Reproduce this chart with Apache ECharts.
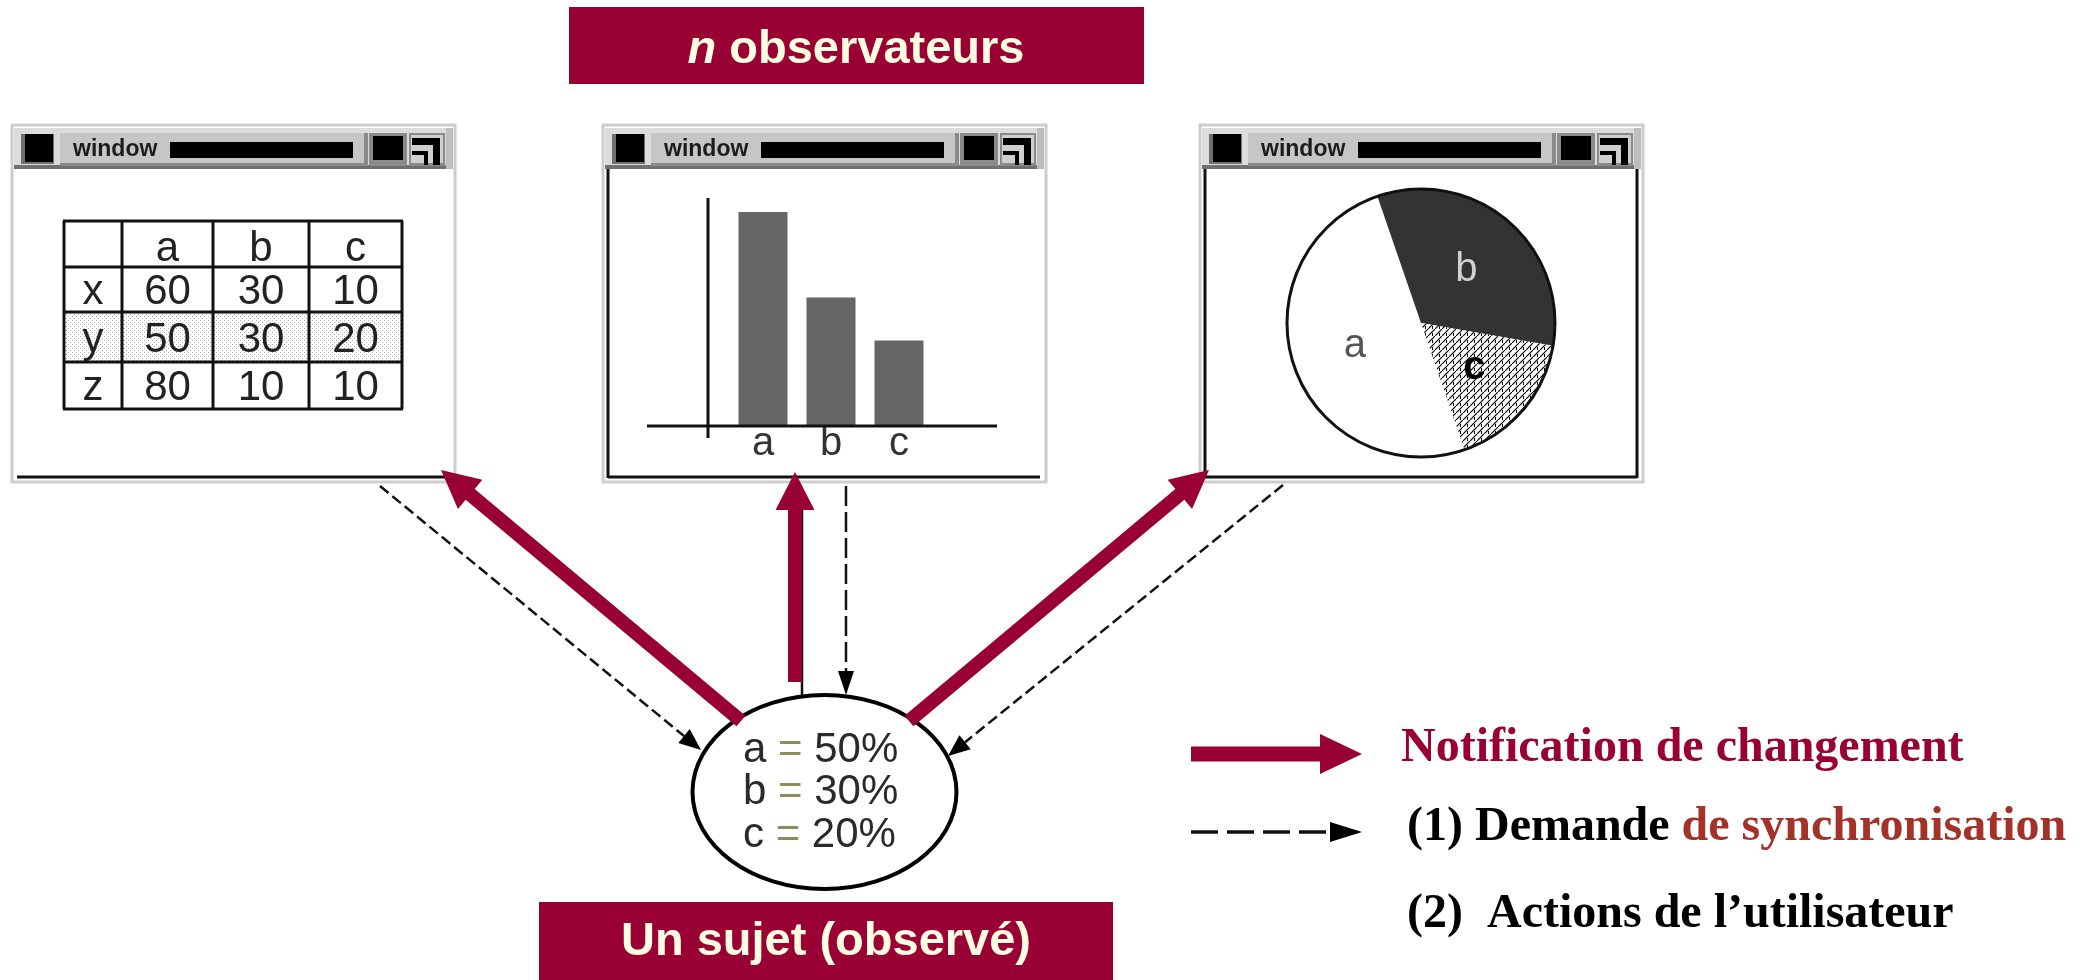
<!DOCTYPE html>
<html>
<head>
<meta charset="utf-8">
<title>Observateur</title>
<script src="https://cdn.jsdelivr.net/npm/echarts@6/dist/echarts.min.js"></script>
<style>
html,body{margin:0;padding:0;background:#fff;}
#main{width:2098px;height:980px;}
</style>
</head>
<body>
<div id="main"></div>
<script>
var tableCols=['a','b','c'];
var tableRows=['x','y','z'];
var tableValues=[[60,30,10],[50,30,20],[80,10,10]];
var barCats=['a','b','c'];
var barValues=[50,30,20];
var pieCats=['a','b','c'];
var pieValues=[50,33,17];
var subjectLines=[['a','50%'],['b','30%'],['c','20%']];
var legendTexts=['Notification de changement','(1) Demande ','de synchronisation','(2)  Actions de l\u2019utilisateur'];

var MAROON='#990033';
var CREAM='#fffde2';
var SANS='"Liberation Sans", Arial, sans-serif';
var SERIF='"Liberation Serif", "Times New Roman", serif';

function makePattern(draw,size){
    var c=document.createElement('canvas');
    c.width=size;c.height=size;
    var ctx=c.getContext('2d');
    ctx.fillStyle='#fff';
    ctx.fillRect(0,0,size,size);
    draw(ctx);
    return {image:c,repeat:'repeat'};
}
var dotPattern=makePattern(function(ctx){
    ctx.fillStyle='#b4b4b4';
    ctx.fillRect(0,0,1,1);
    ctx.fillRect(2,2,1,1);
},4);
var hatchPattern=makePattern(function(ctx){
    ctx.strokeStyle='#000';
    ctx.lineWidth=1.2;
    ctx.beginPath();
    ctx.moveTo(-1,8);ctx.lineTo(8,-1);
    ctx.stroke();
    ctx.fillStyle='#000';
    ctx.fillRect(4,4,1,3);
},7);

function R(x,y,w,h,fill,z){
    return {type:'rect',shape:{x:x,y:y,width:w,height:h},style:{fill:fill},z:z||1,silent:true};
}
function L(x1,y1,x2,y2,color,w,dash,z){
    return {type:'line',shape:{x1:x1,y1:y1,x2:x2,y2:y2},
        style:{stroke:color,lineWidth:w,lineDash:dash||null},z:z||1,silent:true};
}
function T(text,x,y,font,fill,align,z){
    return {type:'text',z:z||3,silent:true,
        style:{text:text,x:x,y:y,font:font,fill:fill,textAlign:align||'center',textVerticalAlign:'middle'}};
}
function arrowPoints(x1,y1,x2,y2,w,hl,hw){
    var dx=x2-x1,dy=y2-y1,len=Math.sqrt(dx*dx+dy*dy);
    var ux=dx/len,uy=dy/len,nx=-uy,ny=ux;
    var bx=x2-ux*hl,by=y2-uy*hl;
    return [[x1+nx*w/2,y1+ny*w/2],[bx+nx*w/2,by+ny*w/2],[bx+nx*hw/2,by+ny*hw/2],[x2,y2],
        [bx-nx*hw/2,by-ny*hw/2],[bx-nx*w/2,by-ny*w/2],[x1-nx*w/2,y1-ny*w/2]];
}
function thickArrow(x1,y1,x2,y2,w,hl,hw){
    return {type:'polygon',shape:{points:arrowPoints(x1,y1,x2,y2,w,hl,hw)},style:{fill:MAROON},z:20,silent:true};
}
function dashArrow(x1,y1,x2,y2,dash,w,hl,hw){
    var dx=x2-x1,dy=y2-y1,len=Math.sqrt(dx*dx+dy*dy);
    var ux=dx/len,uy=dy/len,nx=-uy,ny=ux;
    var bx=x2-ux*hl,by=y2-uy*hl;
    return [
        L(x1,y1,bx,by,'#111',w,dash,15),
        {type:'polygon',shape:{points:[[bx+nx*hw/2,by+ny*hw/2],[x2,y2],[bx-nx*hw/2,by-ny*hw/2]]},
            style:{fill:'#000'},z:15,silent:true}
    ];
}

var els=[];

// fenêtres
function addWindow(x0,borders){
    var W=443,top=125,bot=482;
    els.push({type:'rect',shape:{x:x0,y:top,width:W,height:bot-top},style:{fill:'#fff',stroke:'#cdcdcd',lineWidth:3},z:0,silent:true});
    els.push(R(x0+2,top+3,W-4,41,'#dcdcdc'));
    els.push(R(x0+2,top+40,W-4,4,'#707070'));
    els.push(R(x0+W-9,top+3,7,41,'#bdbdbd'));
    els.push(R(x0+9,top+9,33,30,'#707070'));
    els.push(R(x0+13,top+9,28,28,'#000'));
    els.push(R(x0+48,top+8,308,33,'#8a8a8a'));
    els.push(R(x0+48,top+8,304,30,'#c6c6c6'));
    els.push(T('window',x0+61,top+25,'bold 23px '+SANS,'#1c1c1c','left'));
    els.push(R(x0+158,top+17,183,16,'#000'));
    els.push(R(x0+357,top+8,38,33,'#8a8a8a'));
    els.push(R(x0+361,top+11,30,24,'#000'));
    els.push(R(x0+397,top+8,36,33,'#8a8a8a'));
    els.push(R(x0+399,top+10,32,28,'#cfcfcf'));
    els.push(R(x0+400,top+13,28,7,'#000'));
    els.push(R(x0+421,top+13,7,27,'#000'));
    els.push(R(x0+400,top+26,15,4,'#000'));
    els.push(R(x0+412,top+26,4,14,'#000'));
    if(borders.left) els.push(L(x0+5,top+44,x0+5,bot-4,'#111',3));
    if(borders.right) els.push(L(x0+W-6,top+44,x0+W-6,bot-4,'#111',3));
    els.push(L(x0+5,bot-5,x0+W-6,bot-5,'#111',3));
}
addWindow(12,{left:false,right:false});
addWindow(603,{left:true,right:false});
addWindow(1200,{left:true,right:true});

// tableau (fenêtre 1)
var colX=[64,122,213,309,402];
var rowY=[221,267,312,362,409];
els.push(R(colX[0],rowY[2],colX[4]-colX[0],rowY[3]-rowY[2],dotPattern,2));
for(var i=0;i<colX.length;i++) els.push(L(colX[i],rowY[0],colX[i],rowY[4],'#111',3,null,4));
for(var j=0;j<rowY.length;j++) els.push(L(colX[0]-1,rowY[j],colX[4]+1,rowY[j],'#111',3,null,4));
var tfont='42px '+SANS;
function cellCenter(ci,ri){return [(colX[ci]+colX[ci+1])/2,(rowY[ri]+rowY[ri+1])/2+3];}
tableCols.forEach(function(c,ci){var p=cellCenter(ci+1,0);els.push(T(c,p[0],p[1]+2,tfont,'#222'));});
tableRows.forEach(function(r,ri){
    var p=cellCenter(0,ri+1);els.push(T(r,p[0],p[1],tfont,'#222'));
    tableValues[ri].forEach(function(v,ci){var q=cellCenter(ci+1,ri+1);els.push(T(String(v),q[0],q[1],tfont,'#222'));});
});

// axes de l'histogramme (fenêtre 2)
els.push(L(708,198,708,438,'#111',3,null,10));
els.push(L(647,426,997,426,'#111',3,null,10));

// contour du camembert (fenêtre 3)
els.push({type:'circle',shape:{cx:1421,cy:323,r:134},style:{fill:null,stroke:'#111',lineWidth:3},z:10,silent:true});

// flèches pointillées
els=els.concat(dashArrow(380,486,701,750,[11,5],2.5,22,18));
els=els.concat(dashArrow(846,486,846,695,[20,6],2.5,24,16));
els=els.concat(dashArrow(1283,485,948,756,[11,5],2.5,22,18));
els.push(L(802,510,802,697,'#111',2.5,null,15));

// sujet
els.push({type:'ellipse',shape:{cx:824.5,cy:792,rx:132,ry:97},style:{fill:'#fff',stroke:'#000',lineWidth:4},z:16,silent:true});
var vStyle={fontSize:42,fontFamily:'Liberation Sans',fill:'#2a2a2a'};
var eStyle={fontSize:42,fontFamily:'Liberation Sans',fill:'#8f8c5c'};
subjectLines.forEach(function(p,k){
    els.push({type:'text',z:17,silent:true,style:{
        text:'{v|'+p[0]+' }{e|=}{v| '+p[1]+'}',x:743,y:750+k*42.5,textAlign:'left',textVerticalAlign:'middle',
        rich:{v:vStyle,e:eStyle}
    }});
});

// flèches de notification
els.push(thickArrow(741,721,441,470,14,38,38));
els.push(thickArrow(795,682,795,472,14,38,39));
els.push(thickArrow(909,721,1209,470,14,38,38));

// titres
els.push(R(569,7,575,77,MAROON,5));
els.push({type:'text',z:6,silent:true,style:{text:'{i|n}{r| observateurs}',x:856,y:50,textAlign:'center',textVerticalAlign:'middle',
    rich:{i:{fontSize:47,fontWeight:'bold',fontStyle:'italic',fontFamily:'Liberation Sans',fill:CREAM},
          r:{fontSize:47,fontWeight:'bold',fontFamily:'Liberation Sans',fill:CREAM}}}});
els.push(R(539,902,574,78,MAROON,5));
els.push(T('Un sujet (observé)',826,942,'bold 47px '+SANS,CREAM,'center',6));

// légende
els.push(thickArrow(1191,754,1362,754,15,42,40));
els=els.concat(dashArrow(1191,832,1362,832,[27,9],3.5,32,20));
els.push(T(legendTexts[0],1401,749,'bold 48px '+SERIF,MAROON,'left',6));
els.push({type:'text',z:6,silent:true,style:{text:'{k|'+legendTexts[1]+'}{r|'+legendTexts[2]+'}',x:1407,y:828,textAlign:'left',textVerticalAlign:'middle',
    rich:{k:{fontSize:48,fontWeight:'bold',fontFamily:'Liberation Serif',fill:'#000'},
          r:{fontSize:48,fontWeight:'bold',fontFamily:'Liberation Serif',fill:'#a3322a'}}}});
els.push(T(legendTexts[3],1407,915,'bold 48px '+SERIF,'#000','left',6));

var pieColors=['#ffffff','#333333',hatchPattern];
var pieLabelColors=['#555','#d0d0d0','#000'];

var option={
    backgroundColor:'#fff',
    animation:false,
    grid:{left:729,top:212,width:204,height:214},
    xAxis:{type:'category',data:barCats,
        axisLine:{show:false},axisTick:{show:false},
        axisLabel:{fontSize:40,fontFamily:'Liberation Sans',color:'#333',margin:18,verticalAlign:'middle'}},
    yAxis:{type:'value',min:0,max:50,show:false},
    series:[
        {type:'bar',data:barValues,barWidth:49,itemStyle:{color:'#666'},silent:true,z:5},
        {type:'pie',center:[1421,323],radius:134,startAngle:289,clockwise:true,silent:true,z:5,
            label:{show:true,position:'inside',formatter:'{b}',fontSize:40,fontFamily:'Liberation Sans'},
            labelLine:{show:false},
            data:pieCats.map(function(c,k){
                return {name:c,value:pieValues[k],itemStyle:{color:pieColors[k],borderWidth:0},
                    label:{color:pieLabelColors[k],fontWeight:k==2?'bold':'normal'}};
            })}
    ],
    graphic:{elements:els}
};

var myChart=echarts.init(document.getElementById('main'));
myChart.setOption(option);
</script>
</body>
</html>
